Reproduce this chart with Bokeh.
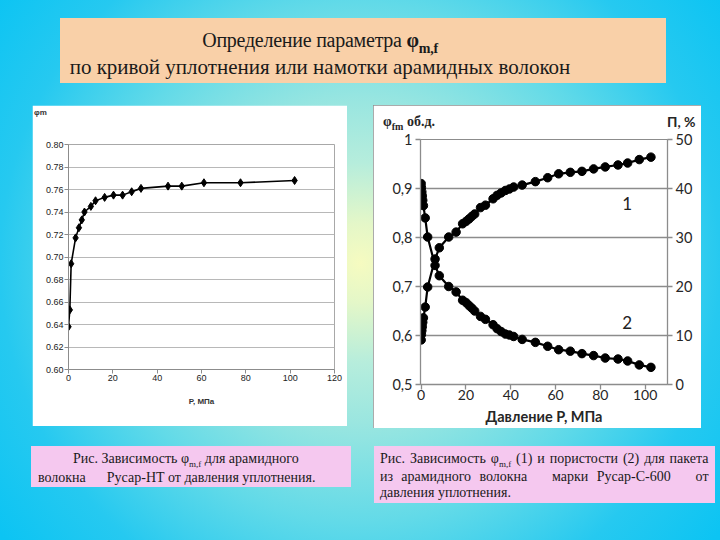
from bokeh.plotting import figure
from bokeh.models import (Div, Range1d, LinearAxis, FixedTicker, CustomJSTickFormatter, Label)
from bokeh.layouts import column, row
from bokeh.embed import file_html
from bokeh.resources import INLINE

# ---------------- data: left chart (Русар-НТ) ----------------
p_nt = [0, 0.6, 1.2, 3.2, 4.7, 6.0, 7.2, 10.1, 12.2, 16.3, 20.3, 24.4, 28.5, 32.7, 44.9, 51.1, 61.1, 77.6, 102.0]
phi_nt = [0.638, 0.653, 0.694, 0.717, 0.726, 0.733, 0.740, 0.745, 0.750, 0.753, 0.755, 0.755,
          0.758, 0.761, 0.763, 0.763, 0.766, 0.766, 0.768]
x1_ticks = [0, 20, 40, 60, 80, 100, 120]
y1_ticks = [0.60, 0.62, 0.64, 0.66, 0.68, 0.70, 0.72, 0.74, 0.76, 0.78, 0.80]

# ---------------- data: right chart (Русар-С-600) ----------------
p_c = [0, 0.1, 0.3, 0.5, 0.7, 1.0, 1.8, 2.9, 6.2, 8.1, 12.3, 15.6, 18.5, 20.1, 21.4, 22.6, 23.9,
       26.5, 28.7, 32.1, 33.9, 35.7, 37.6, 39.4, 41.3, 45.1, 51.0, 56.5, 61.4, 66.6, 71.8, 77.0,
       82.2, 87.9, 92.2, 97.4, 102.6]
phi_c = [0.591, 0.602, 0.610, 0.618, 0.627, 0.636, 0.658, 0.699, 0.756, 0.779, 0.801, 0.811,
         0.828, 0.833, 0.838, 0.843, 0.848, 0.861, 0.866, 0.879, 0.886, 0.891, 0.896, 0.899,
         0.903, 0.907, 0.914, 0.922, 0.930, 0.933, 0.935, 0.940, 0.944, 0.948, 0.952, 0.959, 0.964]
por_c = [41.0, 40.2, 39.3, 38.5, 37.6, 36.5, 34.0, 30.1, 24.3, 22.2, 20.0, 18.9, 17.2, 16.7,
         16.1, 15.6, 15.0, 13.9, 13.3, 12.2, 11.4, 10.8, 10.3, 10.1, 9.8, 9.2, 8.6, 7.8, 7.1,
         6.8, 6.3, 5.9, 5.4, 5.2, 4.8, 4.0, 3.5]
x2_ticks = [0, 20, 40, 60, 80, 100]
y2_ticks = [0.5, 0.6, 0.7, 0.8, 0.9, 1.0]
y2r_ticks = [0, 10, 20, 30, 40, 50]

# ---------------- left figure ----------------
p1 = figure(width=315, height=321, x_range=Range1d(0, 120), y_range=Range1d(0.6, 0.8),
            output_backend="svg", toolbar_location=None, title=None,
            min_border_left=36, min_border_right=13, min_border_top=39, min_border_bottom=57,
            background_fill_color="white", border_fill_color="white",
            outline_line_color="#a8a8a8", margin=(22, 0, 0, 32))
p1.xaxis.ticker = FixedTicker(ticks=x1_ticks)
p1.yaxis.ticker = FixedTicker(ticks=y1_ticks)
p1.yaxis.formatter = CustomJSTickFormatter(code="return tick.toFixed(2);")
for ax in (p1.xaxis[0], p1.yaxis[0]):
    ax.major_label_text_font = "Liberation Sans"
    ax.major_label_text_font_size = "9px"
    ax.major_label_text_color = "#222222"
    ax.axis_line_color = "#8c8c8c"
    ax.major_tick_line_color = "#8c8c8c"
    ax.major_tick_out = 4
    ax.major_tick_in = 0
    ax.minor_tick_out = 0
    ax.minor_tick_in = 0
    ax.major_label_standoff = 1
p1.xaxis.axis_label = "P, МПа"
p1.xaxis.axis_label_text_font = "Liberation Sans"
p1.xaxis.axis_label_text_font_size = "8px"
p1.xaxis.axis_label_text_font_style = "bold"
p1.xaxis.axis_label_text_color = "#333333"
p1.xaxis.axis_label_standoff = 13
p1.xgrid.visible = False
p1.ygrid.grid_line_color = "#b8b8b8"
p1.line(p_nt, phi_nt, line_color="black", line_width=1.6)
p1.scatter(p_nt, phi_nt, marker="diamond", size=8, color="black")

# header of the left chart, laid over its top-left corner
d1 = Div(text=("<div style=\"position:relative;width:315px;height:30px;\">"
               "<span style=\"position:absolute;left:2px;top:3px;font:bold 8px 'Liberation Sans';"
               "color:#333333;white-space:nowrap;\">φm</span></div>"),
         width=315, height=30, margin=(-321, 0, 0, 32))

# ---------------- right figure ----------------
p2 = figure(width=328, height=323, x_range=Range1d(-0.3, 110), y_range=Range1d(0.5, 1.0),
            output_backend="svg", toolbar_location=None, title=None,
            min_border_left=47, min_border_right=34, min_border_top=34, min_border_bottom=44,
            background_fill_color="white", border_fill_color="white",
            outline_line_color="#8c8c8c", margin=(22, 0, 0, 26),
            styles={"outline": "2px solid #8f8f8f", "outline-offset": "-2px"})
p2.extra_y_ranges = {"por": Range1d(0, 50)}
p2.add_layout(LinearAxis(y_range_name="por", ticker=FixedTicker(ticks=y2r_ticks)), "right")
p2.xaxis.ticker = FixedTicker(ticks=x2_ticks)
p2.yaxis[0].ticker = FixedTicker(ticks=y2_ticks)
p2.yaxis[0].formatter = CustomJSTickFormatter(
    code="return tick > 0.999 ? '1' : tick.toFixed(1).replace('.', ',');")
for ax in list(p2.xaxis) + list(p2.yaxis):
    ax.major_label_text_font = "Lato"
    ax.major_label_text_font_size = "14.5px"
    ax.major_label_text_color = "#262626"
    ax.axis_line_color = "#8c8c8c"
    ax.axis_line_width = 1.3
    ax.major_tick_line_color = "#8c8c8c"
    ax.major_tick_line_width = 1.3
    ax.major_tick_out = 5
    ax.major_tick_in = 0
    ax.minor_tick_out = 0
    ax.minor_tick_in = 0
    ax.major_label_standoff = 3
p2.xaxis.major_label_standoff = 0
p2.xaxis.major_label_text_font_size = "14px"
p2.xaxis.axis_label = "Давление Р, МПа"
p2.xaxis.axis_label_text_font = "Lato"
p2.xaxis.axis_label_text_font_size = "14.5px"
p2.xaxis.axis_label_text_font_style = "bold"
p2.xaxis.axis_label_text_color = "#262626"
p2.xaxis.axis_label_standoff = 5
p2.xgrid.visible = False
p2.ygrid.grid_line_color = "#8c8c8c"
p2.ygrid.grid_line_width = 1.3

p2.line(p_c, phi_c, line_color="black", line_width=2.2)
p2.scatter(p_c, phi_c, marker="circle", size=8.5, color="black")
p2.line(p_c, por_c, line_color="black", line_width=2.2, y_range_name="por")
p2.scatter(p_c, por_c, marker="circle", size=8.5, color="black", y_range_name="por")

p2.add_layout(Label(x=92, y=0.869, text="1", text_font="Lato", text_font_size="17px",
                    text_color="#222222", text_align="center", text_baseline="middle"))
p2.add_layout(Label(x=92, y=0.627, text="2", text_font="Lato", text_font_size="17px",
                    text_color="#222222", text_align="center", text_baseline="middle"))

# header of the right chart (axis names), laid over its top strip
d2 = Div(text=("<div style=\"position:relative;width:328px;height:30px;color:#262626;\">"
               "<span style=\"position:absolute;left:10px;top:10px;line-height:14px;"
               "font-family:'Liberation Serif';font-weight:bold;font-size:14px;"
               "white-space:nowrap;\">φ<span style=\""
               "font-size:10px;position:relative;top:4px;\">fm</span>&nbsp;об.д.</span>"
               "<span style=\"position:absolute;left:294px;top:10px;line-height:14px;"
               "font-family:Lato;font-weight:bold;font-size:14px;white-space:nowrap;\">П, %</span></div>"),
         width=328, height=30, margin=(-323, 0, 0, 26))

# ---------------- title and captions ----------------
title_html = (
    "<div style=\"font-family:'Liberation Serif';line-height:25px;"
    "color:#1a1a1a;text-align:center;padding:10px 86px 0 0;width:606px;box-sizing:border-box;\">"
    "<div style=\"font-size:20px;letter-spacing:-0.25px;\">Определение параметра <b>φ</b>"
    "<span style=\"font-weight:bold;font-size:14px;position:relative;top:6px;\">m,f</span></div>"
    "<div style=\"font-size:21px;\">по кривой уплотнения или намотки арамидных волокон</div></div>"
)
title_div = Div(text=title_html, width=606, height=65, margin=(18, 0, 0, 60),
                styles={"background-color": "#F9D0A8"})

sub = "<span style=\"font-size:9px;position:relative;top:4px;\">m,f</span>"
cap1_html = (
    "<div style=\"font-family:'Liberation Serif';font-size:14px;line-height:17px;"
    "color:#1a1a1a;padding:4px 4px 0 7px;width:320px;box-sizing:border-box;\">"
    "<div style=\"padding-left:35px;\">Рис. Зависимость φ" + sub + " для арамидного</div>"
    "<div>волокна<span style=\"margin-left:21px;\">Русар-НТ от давления уплотнения.</span></div>"
    "</div>"
)
cap1 = Div(text=cap1_html, width=320, height=41, margin=(18, 0, 0, 31),
           styles={"background-color": "#F5C8EF"})

cap2_html = (
    "<div style=\"font-family:'Liberation Serif';font-size:14px;line-height:16.5px;"
    "color:#1a1a1a;padding:5px 6.5px 0 6px;width:341px;box-sizing:border-box;\">"
    "<div style=\"text-align:justify;text-align-last:justify;\">Рис. Зависимость φ" + sub +
    " (1) и пористости (2) для пакета</div>"
    "<div style=\"text-align:justify;text-align-last:justify;\">из арамидного волокна "
    "&nbsp; марки Русар-С-600 &nbsp; от</div>"
    "<div>давления уплотнения.</div>"
    "</div>"
)
cap2 = Div(text=cap2_html, width=341, height=57, margin=(18, 0, 0, 23),
           styles={"background-color": "#F5C8EF"})

grad = ("radial-gradient(circle 450px at 360px 263px, #F6FBC0 0px, #E4F7C8 40px, "
        "#B6EDDC 100px, #9AE6E0 160px, #62DAE8 260px, #26C9F0 360px, #0CC4F3 450px)")

col1 = column(p1, d1, width=347, height=343, sizing_mode="fixed")
col2 = column(p2, d2, width=354, height=345, sizing_mode="fixed")
root = column(title_div, row(col1, col2), row(cap1, cap2), width=720, height=540,
              sizing_mode="fixed", styles={"background": grad})

open("out.html", "w").write(file_html(root, INLINE))
